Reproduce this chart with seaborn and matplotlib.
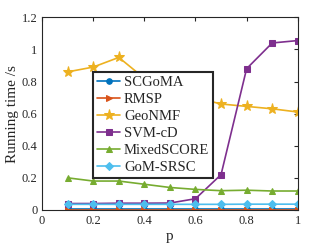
import numpy as np
import pandas as pd
import matplotlib
matplotlib.use("Agg")
import matplotlib.pyplot as plt
import seaborn as sns

# data
p = [0.1, 0.2, 0.3, 0.4, 0.5, 0.6, 0.7, 0.8, 0.9, 1.0]
scgoma = [0.008, 0.008, 0.008, 0.008, 0.008, 0.008, 0.008, 0.008, 0.008, 0.008]
rmsp = [0.002, 0.002, 0.002, 0.002, 0.002, 0.002, 0.002, 0.002, 0.002, 0.002]
geonmf = [0.86, 0.89, 0.95, 0.82, 0.76, 0.70, 0.66, 0.645, 0.63, 0.61]
svmcd = [0.04, 0.04, 0.042, 0.042, 0.043, 0.07, 0.22, 0.88, 1.04, 1.055]
mixedscore = [0.20, 0.18, 0.18, 0.16, 0.14, 0.128, 0.12, 0.123, 0.118, 0.118]
gomsrsc = [0.035, 0.035, 0.035, 0.035, 0.035, 0.035, 0.035, 0.036, 0.036, 0.036]

methods = ["SCGoMA", "RMSP", "GeoNMF", "SVM-cD", "MixedSCORE", "GoM-SRSC"]
values = [scgoma, rmsp, geonmf, svmcd, mixedscore, gomsrsc]
colors = ["#0072BD", "#D95319", "#EDB120", "#7E2F8E", "#77AC30", "#4DBEEE"]
markers = ["o", ">", "*", "s", "^", "D"]
msizes = [4, 5, 8, 4, 5, 4]

df = pd.concat([pd.DataFrame({"p": p, "time": v, "method": m}) for m, v in zip(methods, values)])

sns.set_style("white")
plt.rcParams['font.family'] = ['Liberation Serif', 'DejaVu Serif']

fig, ax = plt.subplots(figsize=(3.29, 2.47), dpi=100)
for m, c, mk, ms in zip(methods, colors, markers, msizes):
    sns.lineplot(data=df[df["method"] == m], x="p", y="time", color=c, marker=mk,
                 markersize=ms, markeredgecolor=c, linewidth=1.2, label=m, ax=ax)

ax.set_xlim(0, 1)
ax.set_ylim(0, 1.2)
ax.set_xticks([0, 0.2, 0.4, 0.6, 0.8, 1])
ax.set_xticklabels(["0", "0.2", "0.4", "0.6", "0.8", "1"])
ax.set_yticks([0, 0.2, 0.4, 0.6, 0.8, 1, 1.2])
ax.set_yticklabels(["0", "0.2", "0.4", "0.6", "0.8", "1", "1.2"])
ax.tick_params(direction="in", length=3, labelsize=9, top=True, right=True,
               color="#262626", labelcolor="#262626")
for s in ax.spines.values():
    s.set_color("#262626")
    s.set_linewidth(0.8)
ax.set_xlabel("p", fontsize=11, labelpad=2)
ax.set_ylabel("Running time /s", fontsize=11, labelpad=2)

leg = ax.legend(loc="upper left", bbox_to_anchor=(0.199, 0.715), fontsize=10.5,
                frameon=True, fancybox=False, handlelength=1.6, handletextpad=0.25,
                borderpad=0.28, labelspacing=0.25, borderaxespad=0)
leg.get_frame().set_edgecolor("#262626")
leg.get_frame().set_linewidth(1.5)
leg.get_frame().set_alpha(1)

plt.subplots_adjust(left=0.128, right=0.905, bottom=0.15, top=0.93)
plt.savefig("out.png", dpi=100)
